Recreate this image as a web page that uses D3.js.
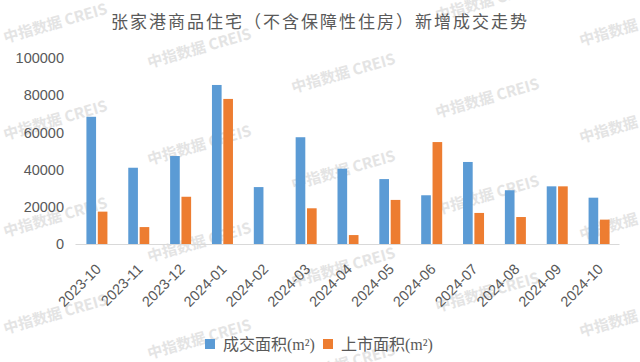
<!DOCTYPE html>
<html>
<head>
<meta charset="utf-8">
<script src="https://cdn.jsdelivr.net/npm/d3@7"></script>
<style>
  html, body { margin: 0; padding: 0; background: #fff; }
  svg { display: block; }
</style>
</head>
<body>
<svg id="chart" width="640" height="362"></svg>
<script>
// 张家港商品住宅（不含保障性住房）新增成交走势
const months = ['2023-10', '2023-11', '2023-12', '2024-01', '2024-02', '2024-03', '2024-04',
  '2024-05', '2024-06', '2024-07', '2024-08', '2024-09', '2024-10'];
const dealArea = [68400, 41000, 47300, 85500, 30600, 57400, 40500, 34900, 26200, 44100, 28900, 31000, 24900];
const supplyArea = [17400, 9100, 25400, 78000, 0, 19200, 4800, 23700, 54800, 16700, 14500, 31000, 13100];
const seriesNames = ['成交面积(m²)', '上市面积(m²)'];
const yTicks = [0, 20000, 40000, 60000, 80000, 100000];

const colors = ['#5B9BD5', '#ED7D31'];
const textColor = '#595959';
const cjk = '"Noto Sans CJK SC", "Noto Sans", sans-serif';

const svg = d3.select('#chart');
const W = 640, H = 362;

// 水印（背景），和原图一样在边缘被裁掉
const wm = svg.append('g').attr('class', 'watermark');
for (let i = -1; i < 6; i++) {
  for (let j = -2; j < 5; j++) {
    const cx = 55 + 144 * i;
    const cy = 22 + 25 * i + 97 * j;
    if (cx < -80 || cx > W + 80 || cy < -30 || cy > H + 30) continue;
    wm.append('text')
      .attr('transform', `translate(${cx},${cy}) rotate(-16)`)
      .attr('text-anchor', 'middle')
      .attr('dominant-baseline', 'central')
      .attr('font-family', cjk)
      .attr('font-size', 15)
      .attr('font-weight', 'bold')
      .attr('fill', '#e4e4e4')
      .text('中指数据 CREIS');
  }
}

const margin = {left: 75, right: 21, top: 58, bottom: 118};
const plotBottom = H - margin.bottom; // 244

const x0 = d3.scaleBand()
  .domain(months)
  .range([margin.left, W - margin.right]);

const groupW = 21;
const x1 = d3.scaleBand()
  .domain(seriesNames)
  .range([x0.bandwidth() / 2 - groupW / 2 + 1, x0.bandwidth() / 2 + groupW / 2 + 1])
  .paddingInner(0.15);

const y = d3.scaleLinear()
  .domain([0, 100000])
  .range([plotBottom, margin.top]);

// 标题
svg.append('text')
  .attr('x', 320)
  .attr('y', 20)
  .attr('text-anchor', 'middle')
  .attr('dominant-baseline', 'central')
  .attr('font-family', cjk)
  .attr('font-size', 17)
  .attr('letter-spacing', 2)
  .attr('fill', textColor)
  .text('张家港商品住宅（不含保障性住房）新增成交走势');

// y轴
const yAxis = svg.append('g')
  .attr('transform', `translate(${margin.left - 11},0)`)
  .call(d3.axisLeft(y).tickValues(yTicks).tickSize(0).tickPadding(0).tickFormat(d3.format('d')));
yAxis.select('.domain').remove();
yAxis.selectAll('text')
  .attr('font-family', '"Liberation Sans", Arial, sans-serif')
  .attr('font-size', 14.5)
  .attr('fill', textColor);

// 柱
const data = months.map((m, i) => ({month: m, values: [dealArea[i], supplyArea[i]]}));
const groups = svg.append('g')
  .selectAll('g')
  .data(data)
  .join('g')
  .attr('transform', d => `translate(${x0(d.month)},0)`);

groups.selectAll('rect')
  .data(d => d.values.map((v, k) => ({key: seriesNames[k], value: v, k: k})))
  .join('rect')
  .attr('x', d => x1(d.key))
  .attr('width', x1.bandwidth())
  .attr('y', d => y(d.value))
  .attr('height', d => plotBottom - y(d.value))
  .attr('fill', d => colors[d.k]);

// x轴
const xAxis = svg.append('g')
  .attr('transform', `translate(0,${plotBottom})`)
  .call(d3.axisBottom(x0).tickSize(0).tickPadding(0));
xAxis.select('.domain')
  .attr('stroke', '#D9D9D9')
  .attr('stroke-width', 1);
xAxis.selectAll('text')
  .attr('font-family', '"Liberation Sans", Arial, sans-serif')
  .attr('font-size', 14.5)
  .attr('fill', textColor)
  .attr('text-anchor', 'end')
  .attr('dy', 0)
  .attr('y', 0)
  .attr('transform', 'translate(6,26) rotate(-45)');

// 图例
const legendItems = [
  {name: seriesNames[0], color: colors[0], x: 205},
  {name: seriesNames[1], color: colors[1], x: 323}
];
const legend = svg.append('g').selectAll('g')
  .data(legendItems)
  .join('g')
  .attr('transform', d => `translate(${d.x},339)`);
legend.append('rect')
  .attr('width', 10)
  .attr('height', 10)
  .attr('fill', d => d.color);
legend.append('text')
  .attr('x', 18)
  .attr('y', 5)
  .attr('dominant-baseline', 'central')
  .attr('font-family', '"Liberation Serif", "Noto Sans CJK SC", serif')
  .attr('font-size', 16)
  .attr('fill', textColor)
  .text(d => d.name);
</script>
</body>
</html>
